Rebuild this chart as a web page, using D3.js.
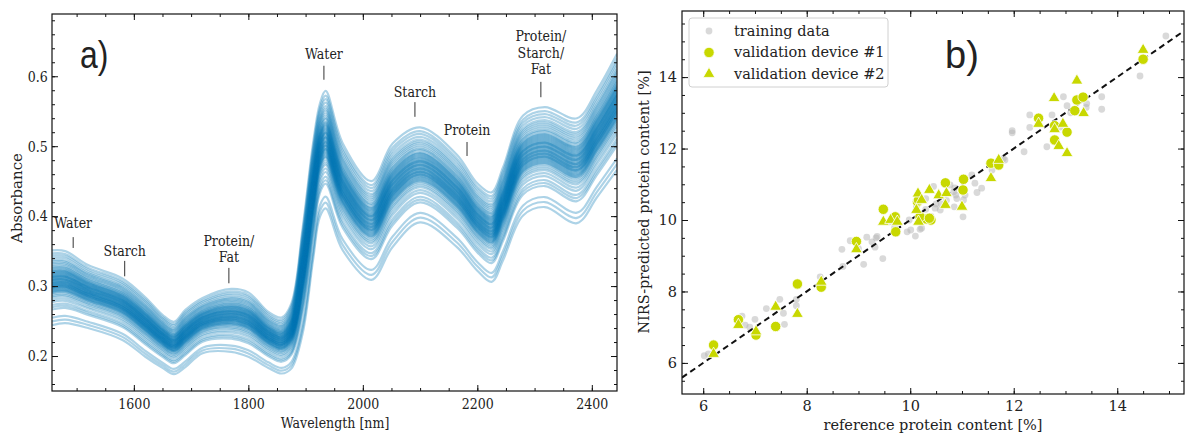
<!DOCTYPE html>
<html>
<head>
<meta charset="utf-8">
<script src="https://cdn.jsdelivr.net/npm/d3@7"></script>
<style>
  body { margin: 0; background: #fff; }
  svg { display: block; }
  text { font-family: "DejaVu Serif", serif; fill: #222; }
</style>
</head>
<body>
<div id="chart"></div>
<script>
// ---- spectra (panel a) ----
const wavelengths = [1457, 1480, 1520, 1580, 1620, 1650, 1670, 1690, 1720, 1770, 1800, 1835, 1858, 1875, 1895, 1913, 1925, 1935, 1965, 2015, 2052, 2100, 2164, 2200, 2225, 2245, 2280, 2318, 2374, 2409, 2444];
// upper edge of the band
const specTop = [0.351, 0.350, 0.330, 0.311, 0.284, 0.259, 0.249, 0.266, 0.283, 0.296, 0.291, 0.263, 0.255, 0.275, 0.384, 0.504, 0.561, 0.579, 0.504, 0.450, 0.504, 0.527, 0.488, 0.447, 0.434, 0.470, 0.544, 0.556, 0.540, 0.580, 0.632];
// lightest (lowest) spectrum
const specLow = [0.244, 0.247, 0.240, 0.223, 0.199, 0.183, 0.174, 0.184, 0.204, 0.206, 0.199, 0.183, 0.175, 0.182, 0.233, 0.337, 0.399, 0.411, 0.351, 0.309, 0.356, 0.391, 0.356, 0.322, 0.306, 0.337, 0.401, 0.413, 0.390, 0.427, 0.466];
// position of each sample between lowest (0) and upper edge (1)
const sampleLevels = [0, 0.05, 0.1, 0.21, 0.24, 0.27, 0.31, 0.34, 0.37, 0.39, 0.41, 0.43, 0.44, 0.45, 0.46, 0.47, 0.48, 0.49, 0.5, 0.505, 0.51, 0.52, 0.53, 0.535, 0.54, 0.55, 0.56, 0.565, 0.57, 0.58, 0.59, 0.6, 0.605, 0.61, 0.62, 0.63, 0.64, 0.645, 0.65, 0.66, 0.67, 0.68, 0.69, 0.7, 0.71, 0.72, 0.73, 0.74, 0.76, 0.77, 0.79, 0.81, 0.83, 0.85, 0.87, 0.9, 0.93, 0.96, 1.0];

// label baseline (last line) and marker line, in data units
const peakLabels = [
  {lines: ["Water"], w: 1494, y: 0.383, tick: [0.3545, 0.370]},
  {lines: ["Starch"], w: 1584, y: 0.343, tick: [0.314, 0.336]},
  {lines: ["Protein/", "Fat"], w: 1766, y: 0.334, tick: [0.304, 0.326]},
  {lines: ["Water"], w: 1932, y: 0.625, tick: [0.595, 0.615]},
  {lines: ["Starch"], w: 2091, y: 0.570, tick: [0.542, 0.563]},
  {lines: ["Protein"], w: 2182, y: 0.516, tick: [0.486, 0.506]},
  {lines: ["Protein/", "Starch/", "Fat"], w: 2311, y: 0.603, tick: [0.570, 0.592]}
];

// ---- protein prediction (panel b) ----
const trainingData = [[6.02,6.20],[6.1,6.25],[6.75,7.31],[6.81,7.06],[6.9,7.0],[7.0,7.22],[7.22,7.52],[7.48,7.78],[7.55,7.39],[7.57,7.08],[7.8,7.78],[7.8,7.6],[8.26,8.41],[8.68,9.18],[8.84,9.42],[8.98,9.35],[9.16,9.52],[9.26,9.39],[9.32,9.24],[9.34,9.5],[9.1,8.76],[9.47,8.92],[9.36,9.54],[9.94,9.67],[10.01,9.72],[10.1,9.55],[10.22,9.77],[9.98,10.0],[10.12,10.37],[10.3,10.3],[10.48,10.33],[10.5,10.45],[10.9,10.6],[10.88,10.7],[10.85,10.37],[10.77,10.98],[10.45,10.94],[10.19,9.74],[11.02,10.09],[10.58,10.28],[10.6,10.45],[10.7,10.55],[11.03,10.56],[11.06,10.7],[10.84,10.79],[10.86,10.9],[11.29,10.77],[11.38,10.89],[11.19,11.26],[11.25,11.03],[11.58,11.4],[11.8,11.72],[11.83,11.68],[11.97,12.44],[11.97,12.5],[12.2,11.91],[12.31,12.94],[12.31,12.59],[12.64,12.05],[12.74,12.94],[12.96,13.45],[13.03,13.2],[13.41,13.26],[13.4,13.15],[13.7,13.45],[13.7,13.1],[14.44,14.03],[14.94,15.15],[9.7,9.8],[9.6,9.95],[10.4,10.1],[10.3,10.6],[8.7,8.7],[9.0,9.2],[12.9,12.6],[13.1,13.0]];
const device1 = [[6.2,6.5],[6.68,7.21],[7.02,6.78],[7.4,7.02],[7.82,8.21],[8.28,8.12],[8.96,9.4],[9.48,10.3],[9.72,9.67],[9.71,10.09],[10.14,10.51],[10.31,10.03],[10.19,10.09],[10.68,11.04],[10.4,10.0],[10.16,10.56],[10.37,10.05],[11.03,11.14],[11.02,10.84],[11.56,11.59],[11.71,11.54],[12.48,12.85],[12.79,12.64],[13.03,12.46],[12.79,12.24],[13.18,13.06],[13.22,13.36],[13.34,13.44],[14.5,14.5]];
const device2 = [[6.2,6.25],[6.68,7.06],[7.02,6.88],[7.4,7.57],[7.82,7.37],[8.28,8.27],[8.96,9.18],[9.48,9.95],[9.62,10.0],[9.75,9.95],[10.15,10.74],[10.37,10.84],[10.12,10.28],[10.16,9.95],[10.55,10.69],[10.68,10.42],[10.7,10.75],[11.0,10.37],[10.22,10.56],[11.56,11.17],[11.71,11.68],[12.48,12.69],[12.79,12.54],[12.95,12.69],[12.87,12.07],[13.03,11.87],[12.78,13.41],[13.35,12.99],[13.22,13.9],[14.5,14.76]];
const legendLabels = ["training data", "validation device #1", "validation device #2"];

const leftXTicks = [1600, 1800, 2000, 2200, 2400];
const leftYTicks = [0.2, 0.3, 0.4, 0.5, 0.6];
const rightTicks = [6, 8, 10, 12, 14];

const W = 1185, H = 435;
const blue = "#0077b4";
const green = "#c8d800";
const squeeze = "scale(0.84,1)";

const svg = d3.select("#chart").append("svg")
  .attr("width", W)
  .attr("height", H);

// generic framed axes with inward ticks on all sides
function drawFrame(g, x, y, xMajor, yMajor, xMinor, yMinor, fmtX, fmtY, fontSize, textTf) {
  const [x0, x1] = x.range(), [y0, y1] = y.range();
  const bottom = g.append("g").attr("transform", `translate(0,${y0})`)
    .call(d3.axisBottom(x).tickValues(xMajor).tickSize(-6).tickPadding(7).tickFormat(fmtX));
  const left = g.append("g").attr("transform", `translate(${x0},0)`)
    .call(d3.axisLeft(y).tickValues(yMajor).tickSize(-6).tickPadding(5).tickFormat(fmtY));
  g.append("g").attr("transform", `translate(0,${y0})`)
    .call(d3.axisBottom(x).tickValues(xMinor).tickSize(-3).tickFormat(""));
  g.append("g").attr("transform", `translate(${x0},0)`)
    .call(d3.axisLeft(y).tickValues(yMinor).tickSize(-3).tickFormat(""));
  g.append("g").attr("transform", `translate(0,${y1})`)
    .call(d3.axisTop(x).tickValues(xMajor).tickSize(-6).tickFormat(""));
  g.append("g").attr("transform", `translate(0,${y1})`)
    .call(d3.axisTop(x).tickValues(xMinor).tickSize(-3).tickFormat(""));
  g.append("g").attr("transform", `translate(${x1},0)`)
    .call(d3.axisRight(y).tickValues(yMajor).tickSize(-6).tickFormat(""));
  g.append("g").attr("transform", `translate(${x1},0)`)
    .call(d3.axisRight(y).tickValues(yMinor).tickSize(-3).tickFormat(""));
  g.selectAll(".domain").remove();
  g.selectAll(".tick line").attr("stroke", "#111");
  [bottom, left].forEach(a => a.selectAll("text")
    .attr("font-family", "DejaVu Serif")
    .attr("font-size", fontSize)
    .attr("fill", "#222")
    .attr("transform", textTf));
  g.append("rect")
    .attr("x", x0).attr("y", y1)
    .attr("width", x1 - x0).attr("height", y0 - y1)
    .attr("fill", "none").attr("stroke", "#111").attr("stroke-width", 1.2);
}

// ---------------- panel a ----------------
const ga = svg.append("g");
const xa = d3.scaleLinear().domain([1457, 2444]).range([52, 617]);
const ya = d3.scaleLinear().domain([0.15, 0.689]).range([391, 14]);

const curves = sampleLevels.map(t => wavelengths.map((w, i) => [w, specLow[i] + t * (specTop[i] - specLow[i])]));
const line = d3.line().x(d => xa(d[0])).y(d => ya(d[1])).curve(d3.curveCatmullRom.alpha(0.5));

ga.append("defs").append("clipPath").attr("id", "clipA")
  .append("rect").attr("x", 52).attr("y", 14).attr("width", 565).attr("height", 377);

ga.append("g").attr("clip-path", "url(#clipA)")
  .selectAll("path").data(curves).join("path")
  .attr("d", line)
  .attr("fill", "none")
  .attr("stroke", blue)
  .attr("stroke-opacity", 0.32)
  .attr("stroke-width", 2.2);

drawFrame(ga, xa, ya, leftXTicks, leftYTicks,
  d3.range(1500, 2441, 50), d3.range(0.16, 0.69, 0.02),
  d3.format("d"), d3.format(".1f"), 15, squeeze);

// peak annotations
peakLabels.forEach(p => {
  const cx = xa(p.w);
  const n = p.lines.length;
  p.lines.forEach((s, i) => {
    ga.append("text")
      .attr("transform", `translate(${cx},${ya(p.y) - (n - 1 - i) * 16.5}) ${squeeze}`)
      .attr("text-anchor", "middle")
      .attr("font-size", 15)
      .text(s);
  });
  ga.append("line")
    .attr("x1", cx).attr("x2", cx)
    .attr("y1", ya(p.tick[1])).attr("y2", ya(p.tick[0]))
    .attr("stroke", "#333").attr("stroke-width", 1);
});

ga.append("text")
  .attr("transform", `translate(335,428) ${squeeze}`)
  .attr("text-anchor", "middle").attr("font-size", 15)
  .text("Wavelength [nm]");
ga.append("text")
  .attr("transform", "translate(22,198) rotate(-90)")
  .attr("text-anchor", "middle").attr("font-size", 15)
  .text("Absorbance");
ga.append("text")
  .attr("transform", `translate(80,68) ${squeeze}`)
  .attr("font-size", 38)
  .style("font-family", "Liberation Sans, Arial, sans-serif")
  .text("a)");

// ---------------- panel b ----------------
const gb = svg.append("g");
const xb = d3.scaleLinear().domain([5.59, 15.29]).range([682, 1184]);
const yb = d3.scaleLinear().domain([5.13, 15.85]).range([394, 11]);

gb.append("defs").append("clipPath").attr("id", "clipB")
  .append("rect").attr("x", 682).attr("y", 11).attr("width", 502).attr("height", 383);

const plotB = gb.append("g").attr("clip-path", "url(#clipB)");

plotB.append("g").selectAll("circle").data(trainingData).join("circle")
  .attr("cx", d => xb(d[0])).attr("cy", d => yb(d[1]))
  .attr("r", 3.4)
  .attr("fill", "#b4b4b4")
  .attr("fill-opacity", 0.5);

plotB.append("line")
  .attr("x1", xb(5.59)).attr("y1", yb(5.59))
  .attr("x2", xb(15.29)).attr("y2", yb(15.29))
  .attr("stroke", "#111").attr("stroke-width", 2)
  .attr("stroke-dasharray", "6,4");

plotB.append("g").selectAll("circle").data(device1).join("circle")
  .attr("cx", d => xb(d[0])).attr("cy", d => yb(d[1]))
  .attr("r", 5.2)
  .attr("fill", green)
  .attr("stroke", "#fff").attr("stroke-width", 0.8);

const tri = d3.symbol().type(d3.symbolTriangle).size(60);
plotB.append("g").selectAll("path").data(device2).join("path")
  .attr("d", tri)
  .attr("transform", d => `translate(${xb(d[0])},${yb(d[1])})`)
  .attr("fill", green)
  .attr("stroke", "#fff").attr("stroke-width", 0.8);

drawFrame(gb, xb, yb, rightTicks, rightTicks,
  d3.range(6, 15.3, 0.5), d3.range(5.5, 15.9, 0.5),
  d3.format("d"), d3.format("d"), 14.5, null);

gb.append("text")
  .attr("x", 933).attr("y", 430)
  .attr("text-anchor", "middle").attr("font-size", 14.5)
  .text("reference protein content [%]");
gb.append("text")
  .attr("transform", "translate(649,202) rotate(-90)")
  .attr("text-anchor", "middle").attr("font-size", 14.5)
  .text("NIRS-predicted protein content [%]");
gb.append("text")
  .attr("x", 945).attr("y", 68)
  .attr("font-size", 38)
  .style("font-family", "Liberation Sans, Arial, sans-serif")
  .text("b)");

// legend
const lg = gb.append("g");
lg.append("rect")
  .attr("x", 689).attr("y", 18).attr("width", 199).attr("height", 69)
  .attr("rx", 3)
  .attr("fill", "#fff").attr("fill-opacity", 0.85)
  .attr("stroke", "#d0d0d0");
const legY = [31, 52.5, 74];
lg.append("circle").attr("cx", 709).attr("cy", legY[0]).attr("r", 3.4)
  .attr("fill", "#b4b4b4").attr("fill-opacity", 0.5);
lg.append("circle").attr("cx", 709).attr("cy", legY[1]).attr("r", 5.2)
  .attr("fill", green).attr("stroke", "#fff").attr("stroke-width", 0.8);
lg.append("path").attr("d", tri).attr("transform", `translate(709,${legY[2]})`)
  .attr("fill", green).attr("stroke", "#fff").attr("stroke-width", 0.8);
legendLabels.forEach((s, i) => {
  lg.append("text")
    .attr("x", 734).attr("y", legY[i] + 4.5)
    .attr("font-size", 14.5)
    .text(s);
});
</script>
</body>
</html>
